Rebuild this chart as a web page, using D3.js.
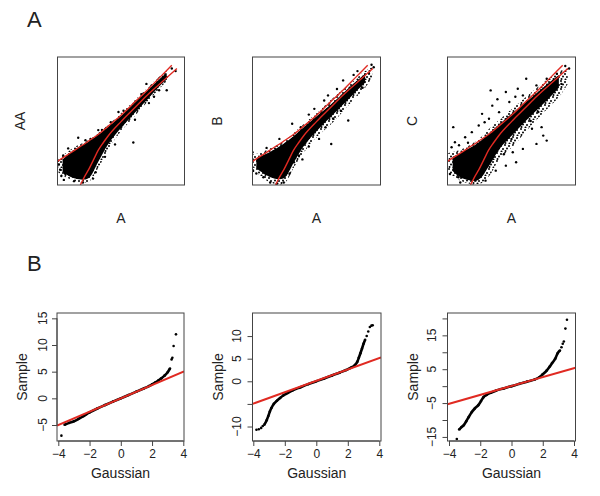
<!DOCTYPE html>
<html>
<head>
<meta charset="utf-8">
<script src="https://cdn.jsdelivr.net/npm/d3@7/dist/d3.min.js"></script>
<style>
  body { margin: 0; background: #fff; }
  text { font-family: "Liberation Sans", Arial, sans-serif; fill: #222; }
</style>
</head>
<body>
<svg id="fig" width="600" height="496"></svg>
<script>
// ---- panel A: scatter data, in arbitrary 0..10 units (no ticks on these axes)
// bands are [x, low, high] of the dense cloud; dots are the loose points around it
var a1Halo = [[0.05,1.0,2.0],[0.4,0.75,2.3],[1.4,0.3,3.0],[2.4,0.2,3.5],[3.2,1.3,4.05],[4.0,2.8,4.7],[5.0,4.2,5.6],[6.0,5.3,6.55],[7.0,6.4,7.5],[8.0,7.5,8.45],[8.7,8.2,9.0]];
var a1Core = [[0.4,1.0,2.0],[1.4,0.5,2.8],[2.4,0.5,3.35],[3.2,1.8,3.9],[4.0,3.2,4.55],[5.0,4.45,5.4],[6.0,5.55,6.35],[7.0,6.6,7.3],[8.0,7.7,8.25],[8.6,8.25,8.75]];
var a1Dots = [[1.63,3.69],[0.84,2.86],[0.45,2.3],[0.1,1.6],[0.2,1.2],[0.6,0.9],[1.1,0.9],[0.3,0.7],[1.6,0.8],[2.0,0.2],[3.21,4.29],[3.74,2.2],[4.53,3.17],[5.97,3.32],[8.6,7.4],[2.6,3.6],[4.2,4.9],[5.2,5.8],[6.1,5.1],[7.0,7.9],[7.6,6.9],[3.0,1.0],[2.8,0.5],[1.3,0.3],[0.9,1.5],[2.2,3.5],[3.5,4.3],[4.8,5.7],[6.6,7.1],[8.0,7.4],[9.0,9.1],[9.3,8.9],[0.05,1.9],[0.5,0.4],[1.9,2.9],[7.2,6.4],[8.3,8.3]];

var a2Halo = [[0.05,1.2,2.4],[0.6,0.7,2.5],[1.4,0.2,2.9],[2.45,0.1,3.4],[3.25,1.4,4.1],[4.05,2.6,4.8],[5.1,3.8,5.7],[6.4,5.0,6.9],[7.75,6.5,8.0],[8.8,7.6,8.9],[9.35,8.4,9.2]];
var a2Core = [[0.3,1.3,2.1],[1.4,0.6,2.6],[2.4,0.5,3.2],[3.25,1.8,3.85],[4.05,3.1,4.55],[5.1,4.3,5.45],[6.4,5.6,6.55],[7.75,6.95,7.8],[8.8,8.0,8.7]];
var a2Dots = [[0,2.56],[3.1,4.78],[4.83,5.95],[3.77,4.52],[5.9,7.0],[6.15,3.2],[5.2,3.6],[7.08,8.17],[7.48,5.04],[3.24,1.78],[3.63,2.3],[0.85,0.6],[1.38,0.2],[2.44,0.2],[9.47,9.2],[0.3,0.9],[0.05,1.1],[1.9,0.1],[2.1,3.6],[4.4,5.5],[5.6,6.6],[6.6,7.5],[7.9,8.6],[8.6,7.6],[6.9,5.8],[5.7,4.5],[4.4,3.0],[2.9,0.9],[1.1,2.9],[8.2,8.9],[9.1,8.7],[9.3,9.4],[3.9,2.0],[6.3,5.2]];

var a3Halo = [[0.05,0.9,2.5],[1.1,0.3,2.8],[2.45,0.05,3.6],[3.25,0.7,4.4],[4.05,2.0,5.1],[5.1,3.0,6.0],[6.4,4.5,7.1],[7.75,5.9,8.2],[8.8,7.0,8.9],[9.4,7.9,9.1]];
var a3Core = [[0.4,1.1,2.2],[1.2,0.5,2.6],[2.4,0.4,3.3],[3.25,1.5,4.05],[4.05,2.8,4.75],[5.1,3.95,5.65],[6.4,5.3,6.7],[7.75,6.6,7.85],[8.7,7.6,8.6]];
var a3Dots = [[6.15,8.3],[3.37,7.39],[4.56,7.26],[5.49,7.52],[6.95,3.21],[7.35,4.52],[7.48,3.86],[7.75,3.47],[0.45,4.52],[1.38,3.73],[2.44,4.65],[0.58,3.34],[0.32,2.95],[3.5,6.2],[4.03,5.69],[2.7,5.56],[3.24,5.17],[1.9,4.13],[4.83,6.48],[5.89,7.0],[6.95,7.78],[7.75,8.3],[8.54,8.7],[7.75,6.74],[5.1,2.56],[5.89,2.82],[4.56,1.51],[5.36,1.78],[3.77,1.12],[2.97,0.34],[2.18,0.34],[0.85,0.6],[0.19,0.86],[1.38,0.73],[8.3,7.3],[8.9,7.9],[9.2,9.3],[9.5,9.1],[6.6,4.4],[4.4,2.4],[2.9,4.9],[1.6,3.3],[0.9,3.1],[3.9,6.7],[5.3,6.9],[6.5,5.0],[7.1,5.7],[2.2,0.9],[1.0,0.2],[5.0,3.6]];

// the red envelope curves look the same in all three scatter panels
var aUpper = [[0,1.85],[0.7,2.3],[1.4,2.75],[2.4,3.4],[3.2,3.95],[4,4.6],[5,5.45],[6,6.4],[7,7.35],[8,8.35],[9,9.35]];
var aLower = [[1.8,0],[2.1,0.6],[2.45,1.2],[2.85,2.0],[3.2,2.7],[3.6,3.3],[4,3.85],[5,4.95],[6,5.95],[7,6.95],[8,7.85],[9.4,9.1]];

var aYLabels = ["AA", "B", "C"];
var aXLabel = "A";

// ---- panel B: QQ plots (Gaussian quantile, sample quantile)
var b1Dense = [[-3.6,-4.95],[-3.3,-4.6],[-3.0,-4.3],[-2.7,-3.85],[-2.4,-3.35],[-2.0,-2.65],[-1.5,-1.9],[-1,-1.25],[-0.5,-0.62],[0,0],[0.5,0.62],[1,1.25],[1.5,1.9],[1.8,2.3],[2.0,2.62],[2.2,2.95],[2.4,3.35],[2.6,3.75],[2.8,4.25],[3.0,4.9],[3.15,5.6]];
var b1Sparse = [[3.25,7.3],[3.3,7.6],[3.38,9.8],[3.53,12.0],[-3.8,-7.0]];
var b2Dense = [[-3.3,-9.6],[-3.15,-8.6],[-3.05,-7.7],[-2.95,-6.7],[-2.85,-5.9],[-2.7,-5.0],[-2.5,-4.3],[-2.3,-3.7],[-2.1,-3.15],[-1.8,-2.55],[-1.5,-2.0],[-1,-1.3],[-0.5,-0.62],[0,0],[0.5,0.62],[1,1.3],[1.5,1.95],[1.9,2.5],[2.2,3.0],[2.45,3.6],[2.6,4.3],[2.7,5.2],[2.8,6.2],[2.9,7.2],[3.0,8.3],[3.1,9.2]];
var b2Sparse = [[-3.8,-10.7],[-3.65,-10.6],[-3.5,-10.3],[-3.4,-9.9],[3.2,10.0],[3.3,11.0],[3.4,12.0],[3.5,12.3],[3.58,12.4]];
var b3Dense = [[-3.35,-12.8],[-3.2,-12.1],[-3.05,-11.5],[-2.9,-10.4],[-2.75,-9.2],[-2.55,-7.7],[-2.35,-6.6],[-2.12,-5.6],[-1.95,-4.4],[-1.8,-3.3],[-1.6,-2.6],[-1.3,-1.9],[-1,-1.35],[-0.5,-0.67],[0,0],[0.5,0.67],[1,1.33],[1.5,2.0],[1.8,2.7],[2.0,3.5],[2.25,4.6],[2.45,5.8],[2.6,6.8],[2.8,8.1],[2.95,9.7],[3.1,10.5]];
var b3Sparse = [[-3.5,-15.6],[3.2,11.5],[3.28,12.5],[3.35,13.2],[3.45,17.0],[3.55,19.6]];

var qqIntercept = [0, 0.1, 0.05];
var qqSlope = [1.25, 1.26, 1.32];
var qqXTicks = [-4, -2, 0, 2, 4];
var qqYTicks = [[-5, 0, 5, 10, 15], [-10, -5, 0, 5, 10], [-15, -10, -5, 0, 5, 10, 15, 20]];
var qqYLabelled = [[-5, 0, 5, 10, 15], [-10, 0, 5, 10], [-15, -5, 5, 15]];
var qqYDomain = [[-8, 16], [-13.2, 15.1], [-16.2, 21.6]];

var RED = "#e02a22";
var svg = d3.select("#fig");
svg.append("rect").attr("width", 600).attr("height", 496).attr("fill", "#fff");

var defs = svg.append("defs");
// irregular speckle for the loose edge of the point clouds
var pat = defs.append("pattern").attr("id", "speckle")
    .attr("width", 8).attr("height", 8).attr("patternUnits", "userSpaceOnUse");
[[1,1],[5,2],[3,4.5],[7,5],[1.5,7],[5.5,7.5]].forEach(function(c) {
  pat.append("circle").attr("cx", c[0]).attr("cy", c[1]).attr("r", 1).attr("fill", "#000");
});

svg.append("text").attr("x", 27).attr("y", 27).style("font-size", "22px").text("A");
svg.append("text").attr("x", 27).attr("y", 271).style("font-size", "22px").text("B");

// ---- scatter panels
var aBoxes = [{x: 57.5, w: 127}, {x: 252.5, w: 128}, {x: 447.5, w: 128}];
var aData = [
  {halo: a1Halo, core: a1Core, dots: a1Dots},
  {halo: a2Halo, core: a2Core, dots: a2Dots},
  {halo: a3Halo, core: a3Core, dots: a3Dots}
];
var aYLabX = [20, 217, 412];

aData.forEach(function(d, i) {
  var bx = aBoxes[i], top = 57, h = 128;
  var x = d3.scaleLinear().domain([0, 10]).range([bx.x, bx.x + bx.w]);
  var y = d3.scaleLinear().domain([0, 10]).range([top + h, top]);
  var clipId = "clipA" + i;
  defs.append("clipPath").attr("id", clipId).append("rect")
      .attr("x", bx.x).attr("y", top).attr("width", bx.w).attr("height", h);
  var g = svg.append("g").attr("clip-path", "url(#" + clipId + ")");

  var band = d3.area().x(function(p) { return x(p[0]); })
      .y0(function(p) { return y(p[1]); }).y1(function(p) { return y(p[2]); })
      .curve(d3.curveCatmullRom);
  g.append("path").attr("d", band(d.halo)).attr("fill", "url(#speckle)");
  g.append("path").attr("d", band(d.core)).attr("fill", "#000");
  g.selectAll(".dot").data(d.dots).enter().append("circle")
      .attr("cx", function(p) { return x(p[0]); })
      .attr("cy", function(p) { return y(p[1]); })
      .attr("r", 1.2).attr("fill", "#000");

  var curve = d3.line().x(function(p) { return x(p[0]); })
      .y(function(p) { return y(p[1]); }).curve(d3.curveMonotoneX);
  [aUpper, aLower].forEach(function(c) {
    g.append("path").attr("d", curve(c)).attr("fill", "none")
        .attr("stroke", RED).attr("stroke-width", 1.4);
  });

  svg.append("rect").attr("x", bx.x).attr("y", top).attr("width", bx.w).attr("height", h)
      .attr("fill", "none").attr("stroke", "#444").attr("stroke-width", 1);

  svg.append("text").attr("transform", "translate(" + (aYLabX[i] + 5) + "," + (top + h / 2) + ") rotate(-90)")
      .attr("text-anchor", "middle").style("font-size", "14px").text(aYLabels[i]);
  svg.append("text").attr("x", bx.x + bx.w / 2).attr("y", 223)
      .attr("text-anchor", "middle").style("font-size", "14px").text(aXLabel);
});

// ---- QQ panels
var bBoxes = [{x: 57, w: 127}, {x: 252.5, w: 128.5}, {x: 447.5, w: 128}];
var bTick = [{x: [58.3, 183.3], lab: 43, title: 22}, {x: [253.3, 379.3], lab: 237, title: 218}, {x: [449, 574], lab: 432, title: 413}];
var bData = [
  {dense: b1Dense, sparse: b1Sparse},
  {dense: b2Dense, sparse: b2Sparse},
  {dense: b3Dense, sparse: b3Sparse}
];

bData.forEach(function(d, i) {
  var bx = bBoxes[i], top = 313, h = 128;
  var t = bTick[i];
  var pxPerUnit = (t.x[1] - t.x[0]) / 8;
  var x = d3.scaleLinear().domain([-4 - (t.x[0] - bx.x) / pxPerUnit, 4 + (bx.x + bx.w - t.x[1]) / pxPerUnit])
      .range([bx.x, bx.x + bx.w]);
  var y = d3.scaleLinear().domain(qqYDomain[i]).range([top + h, top]);

  var clipId = "clipB" + i;
  defs.append("clipPath").attr("id", clipId).append("rect")
      .attr("x", bx.x).attr("y", top).attr("width", bx.w).attr("height", h);
  var g = svg.append("g").attr("clip-path", "url(#" + clipId + ")");

  var line = d3.line().x(function(p) { return x(p[0]); })
      .y(function(p) { return y(p[1]); }).curve(d3.curveMonotoneX);
  g.append("path").attr("d", line(d.dense)).attr("fill", "none")
      .attr("stroke", "#000").attr("stroke-width", 2.6);
  g.selectAll(".pt").data(d.dense.concat(d.sparse)).enter().append("circle")
      .attr("cx", function(p) { return x(p[0]); })
      .attr("cy", function(p) { return y(p[1]); })
      .attr("r", 1.3).attr("fill", "#000");

  var dom = x.domain();
  var ql = dom.map(function(v) { return [v, qqIntercept[i] + qqSlope[i] * v]; });
  g.append("path").attr("d", d3.line().x(function(p) { return x(p[0]); }).y(function(p) { return y(p[1]); })(ql))
      .attr("fill", "none").attr("stroke", RED).attr("stroke-width", 2);

  svg.append("rect").attr("x", bx.x).attr("y", top).attr("width", bx.w).attr("height", h)
      .attr("fill", "none").attr("stroke", "#444").attr("stroke-width", 1);

  // x axis
  var xa = svg.append("g").attr("transform", "translate(0," + (top + h) + ")")
      .call(d3.axisBottom(x).tickValues(qqXTicks).tickSize(5).tickPadding(3)
        .tickFormat(function(v) { return v < 0 ? "\u2212" + Math.abs(v) : v; }));
  xa.select(".domain").attr("d", "M" + x(-4) + ",0H" + x(4)).attr("stroke", "#444");
  xa.selectAll("line").attr("stroke", "#444");
  xa.selectAll("text").style("font-size", "12px").style("font-family", "Liberation Sans, Arial, sans-serif").attr("fill", "#222");

  // y axis
  var yt = qqYTicks[i];
  var ya = svg.append("g").attr("transform", "translate(" + bx.x + ",0)")
      .call(d3.axisLeft(y).tickValues(yt).tickSize(5).tickFormat(""));
  ya.select(".domain").attr("d", "M0," + y(yt[0]) + "V" + y(yt[yt.length - 1])).attr("stroke", "#444");
  ya.selectAll("line").attr("stroke", "#444");
  svg.selectAll(null).data(qqYLabelled[i]).enter().append("text")
      .attr("transform", function(v) { return "translate(" + (t.lab + 4) + "," + y(v) + ") rotate(-90)"; })
      .attr("text-anchor", "middle").style("font-size", "12px")
      .text(function(v) { return v < 0 ? "\u2212" + Math.abs(v) : v; });

  svg.append("text").attr("transform", "translate(" + (t.title + 5) + "," + (top + h / 2) + ") rotate(-90)")
      .attr("text-anchor", "middle").style("font-size", "14px").text("Sample");
  svg.append("text").attr("x", bx.x + bx.w / 2).attr("y", 478)
      .attr("text-anchor", "middle").style("font-size", "14px").text("Gaussian");
});
</script>
</body>
</html>
